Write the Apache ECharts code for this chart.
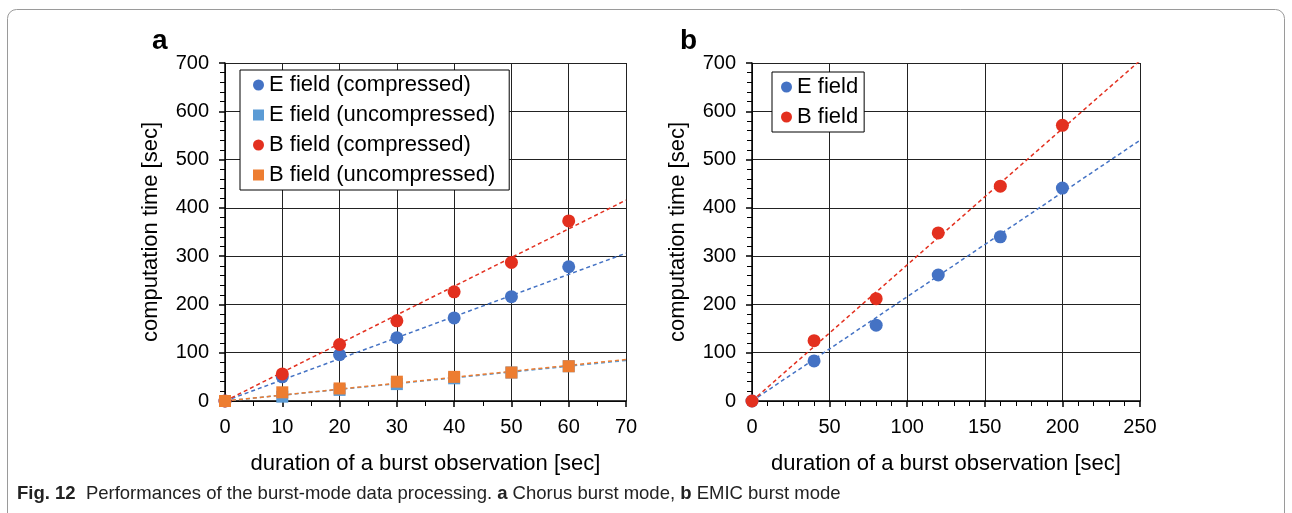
<!DOCTYPE html>
<html><head><meta charset="utf-8">
<script src="https://cdn.jsdelivr.net/npm/echarts@6/dist/echarts.min.js"></script>
<style>html,body{margin:0;padding:0;background:#fff}#c{width:1292px;height:513px}</style>
</head><body><div id="c"></div>
<script>
// Panel a data
const aX = [0, 10, 20, 30, 40, 50, 60];
const aEComp = [0, 50, 96, 131, 172, 216, 278];
const aEUncomp = [0, 9, 23, 35, 47, 59, 72];
const aBComp = [0, 56, 117, 166, 226, 287, 373];
const aBUncomp = [0, 18, 26, 40, 50, 59, 72];
// Panel a trend lines (endpoints)
const aTrendX = [0, 70];
const aTrendEComp = [0, 306];
const aTrendEUncomp = [0, 84];
const aTrendBComp = [0, 416];
const aTrendBUncomp = [0, 86];
// Panel b data
const bX = [0, 40, 80, 120, 160, 200];
const bE = [0, 83, 157, 261, 340, 441];
const bB = [0, 125, 212, 348, 445, 571];
const bTrendX = [0, 250];
const bTrendE = [0, 540];
const bTrendB = [0, 705];
// Ticks
const aXTicks = {min: 0, max: 70, interval: 10};
const bXTicks = {min: 0, max: 250, interval: 50};
const yTicks = {min: 0, max: 700, interval: 100};

const C = {eComp: '#4472C4', eUnc: '#5B9BD5', bComp: '#E3301F', bUnc: '#ED7D31'};
const FONT = 'Liberation Sans, Arial, sans-serif';

function pairs(xs, ys) { return xs.map((x, i) => [x, ys[i]]); }

function xAxis(gi, t, minorSplit) {
  return {
    type: 'value', gridIndex: gi, min: t.min, max: t.max, interval: t.interval,
    name: 'duration of a burst observation [sec]', nameLocation: 'middle', nameGap: 52,
    nameTextStyle: {fontFamily: FONT, fontSize: 22, color: '#000'},
    axisLine: {show: true, onZero: false, lineStyle: {color: '#000', width: 1.5}},
    axisTick: {show: true, length: 6, lineStyle: {color: '#000', width: 1.5}},
    minorTick: {show: true, splitNumber: minorSplit, length: 5, lineStyle: {color: '#000'}},
    axisLabel: {fontFamily: FONT, fontSize: 20, color: '#000', margin: 16},
    splitLine: {show: true, lineStyle: {color: '#222', width: 1}}
  };
}
function yAxis(gi) {
  return {
    type: 'value', gridIndex: gi, min: yTicks.min, max: yTicks.max, interval: yTicks.interval,
    name: 'computation time [sec]', nameLocation: 'middle', nameGap: 63, nameRotate: 90,
    nameTextStyle: {fontFamily: FONT, fontSize: 22, color: '#000'},
    axisLine: {show: true, onZero: false, lineStyle: {color: '#000', width: 1.5}},
    axisTick: {show: true, length: 6, lineStyle: {color: '#000', width: 1.5}},
    minorTick: {show: true, splitNumber: 5, length: 5, lineStyle: {color: '#000'}},
    axisLabel: {fontFamily: FONT, fontSize: 20, color: '#000', margin: 16},
    splitLine: {show: true, lineStyle: {color: '#222', width: 1}}
  };
}
function scatter(name, xi, data, color, symbol, size) {
  return {name, type: 'scatter', xAxisIndex: xi, yAxisIndex: xi, data, symbol,
    symbolSize: size, itemStyle: {color, opacity: 1}, z: 5};
}
function trend(xi, data, color) {
  return {type: 'line', xAxisIndex: xi, yAxisIndex: xi, data, showSymbol: false, symbol: 'none',
    silent: true, lineStyle: {color, width: 1.5, type: [4, 3]}, z: 3};
}

const chart = echarts.init(document.getElementById('c'), null, {renderer: 'canvas'});
chart.setOption({
  backgroundColor: '#fff',
  animation: false,
  grid: [
    {left: 225, top: 63, width: 401, height: 338},
    {left: 752, top: 63, width: 388, height: 338}
  ],
  xAxis: [xAxis(0, aXTicks, 2), xAxis(1, bXTicks, 5)],
  yAxis: [yAxis(0), yAxis(1)],
  legend: [
    {left: 240, top: 70, orient: 'vertical', backgroundColor: '#fff', borderColor: '#000', borderWidth: 1,
      padding: [4, 14, 4, 13], itemGap: 8, itemWidth: 11, itemHeight: 11,
      textStyle: {fontFamily: FONT, fontSize: 22, color: '#000'},
      data: [
        {name: 'E field (compressed)', icon: 'circle'},
        {name: 'E field (uncompressed)', icon: 'rect'},
        {name: 'B field (compressed)', icon: 'circle'},
        {name: 'B field (uncompressed)', icon: 'rect'}
      ]},
    {left: 772, top: 72, orient: 'vertical', backgroundColor: '#fff', borderColor: '#000', borderWidth: 1,
      padding: [4, 6, 4, 9], itemGap: 8, itemWidth: 11, itemHeight: 11,
      textStyle: {fontFamily: FONT, fontSize: 22, color: '#000'},
      data: [{name: 'E field', icon: 'circle'}, {name: 'B field', icon: 'circle'}]}
  ],
  series: [
    trend(0, pairs(aTrendX, aTrendEComp), C.eComp),
    trend(0, pairs(aTrendX, aTrendEUncomp), C.eUnc),
    trend(0, pairs(aTrendX, aTrendBComp), C.bComp),
    trend(0, pairs(aTrendX, aTrendBUncomp), C.bUnc),
    scatter('E field (compressed)', 0, pairs(aX, aEComp), C.eComp, 'circle', 13),
    scatter('E field (uncompressed)', 0, pairs(aX, aEUncomp), C.eUnc, 'rect', 12),
    scatter('B field (compressed)', 0, pairs(aX, aBComp), C.bComp, 'circle', 13),
    scatter('B field (uncompressed)', 0, pairs(aX, aBUncomp), C.bUnc, 'rect', 12),
    trend(1, pairs(bTrendX, bTrendE), C.eComp),
    trend(1, pairs(bTrendX, bTrendB), C.bComp),
    scatter('E field', 1, pairs(bX, bE), C.eComp, 'circle', 13),
    scatter('B field', 1, pairs(bX, bB), C.bComp, 'circle', 13)
  ],
  graphic: [
    {type: 'rect', shape: {x: 7.5, y: 9.5, width: 1277, height: 520, r: 9}, silent: true,
      style: {fill: 'none', stroke: '#9a9a9a', lineWidth: 1}, z: -1},
    {type: 'text', left: 152, top: 27, style: {text: 'a', font: 'bold 28px ' + FONT, fill: '#000'}},
    {type: 'text', left: 680, top: 27, style: {text: 'b', font: 'bold 28px ' + FONT, fill: '#000'}},
    {type: 'text', left: 17, top: 484, style: {
      text: '{b|Fig. 12}  Performances of the burst-mode data processing. {b|a} Chorus burst mode, {b|b} EMIC burst mode',
      font: '18.5px ' + FONT, fill: '#222',
      rich: {b: {fontWeight: 'bold', fontSize: 18.5, fontFamily: FONT, fill: '#222'}}}}
  ]
});
</script></body></html>
